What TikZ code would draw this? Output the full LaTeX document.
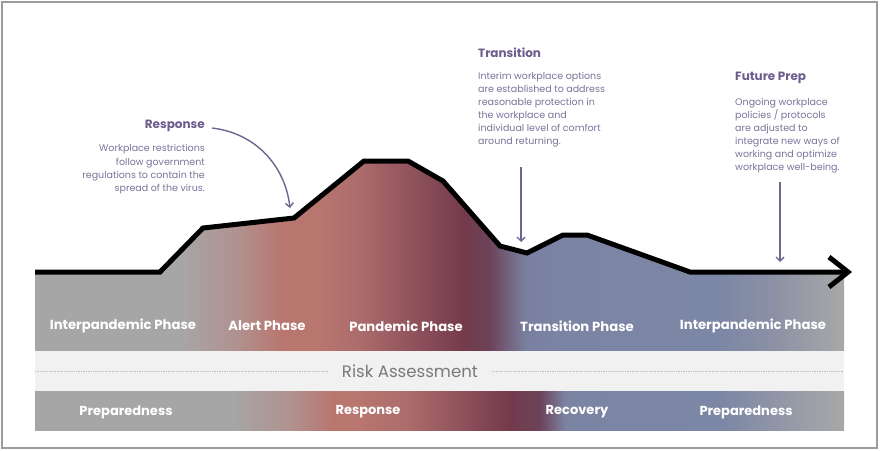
\documentclass[tikz,border=0pt]{standalone}
\usepackage{fontspec}
\setmainfont{Poppins}
\usetikzlibrary{arrows.meta}
\definecolor{cgray}{HTML}{A6A6A6}
\definecolor{cgrayb}{HTML}{A8A8A8}
\definecolor{cpinkl}{HTML}{B09290}
\definecolor{cpink}{HTML}{B8766F}
\definecolor{cpinkd}{HTML}{AC6C6B}
\definecolor{cmaroon}{HTML}{733A4C}
\definecolor{cplum}{HTML}{6C4359}
\definecolor{cbluel}{HTML}{7A7F9F}
\definecolor{cblue}{HTML}{7C84A3}
\definecolor{cblueb}{HTML}{7C86A5}
\definecolor{cbluegr}{HTML}{8A90A5}
\definecolor{cbluegr2}{HTML}{959AA7}
\definecolor{ctitle}{HTML}{6B5E8C}
\definecolor{cbody}{HTML}{7C7299}
\definecolor{carrow}{HTML}{6E6592}
\definecolor{riskbg}{HTML}{F1F1F1}
\definecolor{risktext}{HTML}{7A7A7A}
\definecolor{dotcol}{HTML}{BDBDBD}
\definecolor{framecol}{HTML}{9C9C9C}
\pgfdeclarehorizontalshading{topshade}{100bp}{color(0bp)=(cgray); color(25bp)=(cgray); color(34.0bp)=(cgray); color(37.4bp)=(cpinkl); color(40.3bp)=(cpink); color(42.5bp)=(cpink); color(45bp)=(cpinkd); color(51.6bp)=(cmaroon); color(53.1bp)=(cplum); color(55.3bp)=(cbluel); color(57.5bp)=(cblue); color(67.3bp)=(cblueb); color(70.4bp)=(cbluegr); color(75bp)=(cgrayb); color(100bp)=(cgrayb)}
\pgfdeclarehorizontalshading{botshade}{100bp}{color(0bp)=(cgray); color(25bp)=(cgray); color(37.0bp)=(cgray); color(40.8bp)=(cpinkl); color(43.4bp)=(cpink); color(45bp)=(cpink); color(48bp)=(cpinkd); color(54.4bp)=(cmaroon); color(56.2bp)=(cplum); color(57.8bp)=(cblue); color(67.3bp)=(cblueb); color(71.7bp)=(cbluegr2); color(75bp)=(cgrayb); color(100bp)=(cgrayb)}
\tikzset{
  phaselabel/.style={text=white, font=\fontsize{13.2}{15}\selectfont\bfseries, inner sep=0pt},
  bandlabel/.style={text=white, font=\fontsize{13}{15}\selectfont\bfseries, inner sep=0pt},
  titlelabel/.style={text=ctitle, font=\fontsize{12}{14}\selectfont\bfseries, inner sep=0pt},
  bodylabel/.style={text=cbody, font=\fontsize{9.5}{13.1}\selectfont, inner sep=0pt},
  thinarrow/.style={draw=carrow, line width=1.4pt, -{Straight Barb[length=4pt,width=8pt]}},
  mainline/.style={draw=black, line width=5pt, miter limit=4},
  dotline/.style={draw=dotcol, line width=0.7pt, densely dotted}
}
\begin{document}
\begin{tikzpicture}[x=1pt,y=-1pt]
\useasboundingbox (0,0) rectangle (880,450);
\fill[white] (0,0) rectangle (880,450);
% bands
\shade[shading=topshade] (35,351) -- (35,272) -- (160,272) -- (203,228) -- (294,218) -- (364,161) -- (408,161) -- (443,181) -- (500,246) -- (527,253) -- (563,235) -- (587,235) -- (690,272) -- (844,272) -- (844,351) -- cycle;
\fill[riskbg] (35,351) rectangle (844,391);
\shade[shading=botshade] (35,391) rectangle (844,430);
% main curve
\coordinate (c0) at (35,272);
\coordinate (c1) at (160,272);
\coordinate (c2) at (203,228);
\coordinate (c3) at (294,218);
\coordinate (c4) at (364,161);
\coordinate (c5) at (408,161);
\coordinate (c6) at (443,181);
\coordinate (c7) at (500,246);
\coordinate (c8) at (527,253);
\coordinate (c9) at (563,235);
\coordinate (c10) at (587,235);
\coordinate (c11) at (690,272);
\coordinate (tip) at (848,272);
\coordinate (armA) at (829,257);
\coordinate (armB) at (829,287);
\draw[mainline] (c0) -- (c1) -- (c2) -- (c3) -- (c4) -- (c5) -- (c6) -- (c7) -- (c8) -- (c9) -- (c10) -- (c11) -- (tip);
\draw[mainline] (armA) -- (tip) -- (armB);
% phase labels
\node[phaselabel] (p1) at (123,326) {Interpandemic Phase};
\node[phaselabel] (p2) at (267,326) {Alert Phase};
\node[phaselabel] (p3) at (406,326) {Pandemic Phase};
\node[phaselabel] (p4) at (577,326) {Transition Phase};
\node[phaselabel] (p5) at (753,326) {Interpandemic Phase};
% risk assessment
\node[text=risktext, font=\fontsize{16.6}{19}\selectfont, inner sep=0pt] (risk) at (410,371) {Risk Assessment};
\coordinate (dl) at (35,371);
\coordinate (dr) at (844,371);
\draw[dotline] (dl) -- ([xshift=-13pt]risk.west |- dl);
\draw[dotline] ([xshift=14pt]risk.east |- dr) -- (dr);
% bottom labels
\node[bandlabel] (b1) at (126,412) {Preparedness};
\node[bandlabel] (b2) at (368,412) {Response};
\node[bandlabel] (b3) at (577,412) {Recovery};
\node[bandlabel] (b4) at (746,412) {Preparedness};
% annotations
\node[titlelabel, anchor=east] (rt) at (205,126) {Response};
\node[bodylabel, anchor=north east, align=right] (rb) at (205,144.5) {Workplace restrictions\\follow government\\regulations to contain the\\spread of the virus.};
\node[titlelabel, anchor=west] (tt) at (478,53) {Transition};
\node[bodylabel, anchor=north west, align=left] (tb) at (478,72) {Interim workplace options\\are established to address\\reasonable protection in\\the workplace and\\individual level of comfort\\around returning.};
\node[titlelabel, anchor=west] (ft) at (735,78) {Future Prep};
\node[bodylabel, anchor=north west, align=left] (fb) at (735,98) {Ongoing workplace\\policies / protocols\\are adjusted to\\integrate new ways of\\working and optimize\\workplace well-being.};
% arrows
\coordinate (ra) at (212,128);
\coordinate (re) at (290,208);
\draw[thinarrow] (ra) .. controls (255,133) and (285,165) .. (re);
\coordinate (ta) at (521,167);
\coordinate (te) at (521,242);
\draw[thinarrow] (ta) -- (te);
\coordinate (fa) at (780,182);
\coordinate (fe) at (780,262);
\draw[thinarrow] (fa) -- (fe);
% frame
\draw[framecol, line width=2pt] (1.5,1.5) rectangle (877,448);
\end{tikzpicture}
\end{document}
